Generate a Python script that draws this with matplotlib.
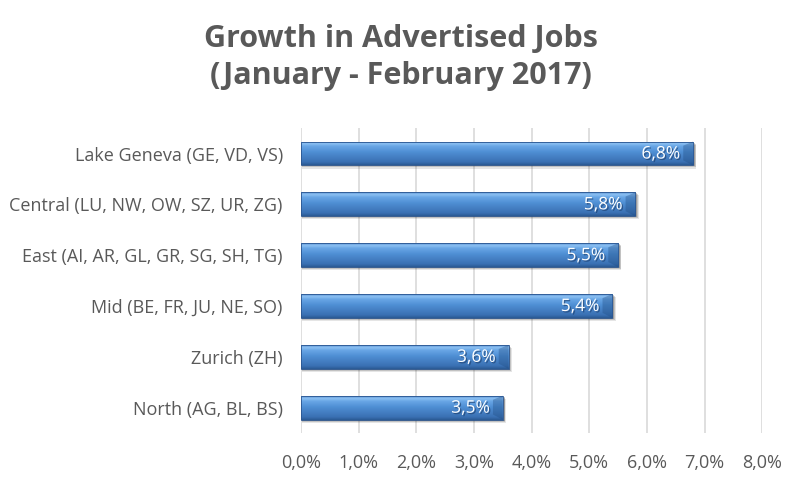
import numpy as np
import matplotlib.pyplot as plt
import matplotlib.patheffects as pe
from matplotlib.patches import Rectangle, Polygon
from matplotlib.colors import LinearSegmentedColormap

plt.rcParams['font.family'] = ['Open Sans', 'DejaVu Sans']

# data (bottom to top)
regions = ['North (AG, BL, BS)', 'Zurich (ZH)', 'Mid (BE, FR, JU, NE, SO)',
           'East (AI, AR, GL, GR, SG, SH, TG)', 'Central (LU, NW, OW, SZ, UR, ZG)',
           'Lake Geneva (GE, VD, VS)']
growth = [3.5, 3.6, 5.4, 5.5, 5.8, 6.8]
xticks = [0, 1, 2, 3, 4, 5, 6, 7, 8]

grey = '#595959'
bar_h = 0.47

fig = plt.figure(figsize=(7.94, 4.78), dpi=100)
ax = fig.add_axes([0.379, 0.094, 0.581, 0.638])

# vertical gradient for the bevelled bars
cmap = LinearSegmentedColormap.from_list('bev', [
    (0.0, '#2b5a94'), (0.12, '#3a70b3'), (0.55, '#4f8fd4'),
    (0.8, '#6aa7e6'), (0.9, '#8cc0f2'), (1.0, '#5e97d6')])
grad = np.linspace(0, 1, 64).reshape(-1, 1)

y = np.arange(len(regions))
for yi, v in zip(y, growth):
    y0, y1 = yi - bar_h / 2, yi + bar_h / 2
    # soft shadow
    for k, a in [(0.06, 0.10), (0.04, 0.15), (0.02, 0.2)]:
        ax.add_patch(Rectangle((0.02, y0 - k), v + k * 0.6, bar_h,
                               facecolor='black', alpha=a, edgecolor='none', zorder=2))
    rect = Rectangle((0, y0), v, bar_h, facecolor='none',
                     edgecolor='#2a5590', linewidth=0.6, zorder=4)
    ax.add_patch(rect)
    im = ax.imshow(grad, extent=(0, v, y0, y1),
                   origin='lower', cmap=cmap, aspect='auto', zorder=3)
    im.set_clip_path(rect)
    # right end bevel
    d = 0.17
    ax.add_patch(Polygon([(v - d, y0 + 0.1), (v, y0), (v, y1), (v - d, y1 - 0.08)],
                         closed=True, facecolor='#1f4a80', alpha=0.35,
                         edgecolor='none', zorder=3.5))
    ax.text(v - 0.22, yi - 0.02, f'{v:.1f}%'.replace('.', ','), ha='right', va='center',
            color='white', fontsize=12.5, zorder=5,
            path_effects=[pe.withSimplePatchShadow(offset=(1, -1), shadow_rgbFace='#1a3a66', alpha=0.6)])

ax.set_xlim(0, 8)
ax.set_ylim(-0.5, len(regions) - 0.5)
ax.set_xticks(xticks)
ax.set_xticklabels([f'{t:.1f}%'.replace('.', ',') for t in xticks])
ax.set_yticks(y)
ax.set_yticklabels(regions)
ax.tick_params(axis='both', length=0, colors=grey, labelsize=13)
ax.tick_params(axis='x', pad=15)
ax.tick_params(axis='y', pad=13)
ax.grid(axis='x', color='#d9d9d9', linewidth=1.2, zorder=0)
ax.set_axisbelow(True)
for s in ax.spines.values():
    s.set_visible(False)

fig.text(0.505, 0.879, 'Growth in Advertised Jobs\n(January - February 2017)',
         ha='center', va='center', fontsize=22, fontweight='bold', color=grey,
         linespacing=1.3)

fig.savefig('out.png', dpi=100)
